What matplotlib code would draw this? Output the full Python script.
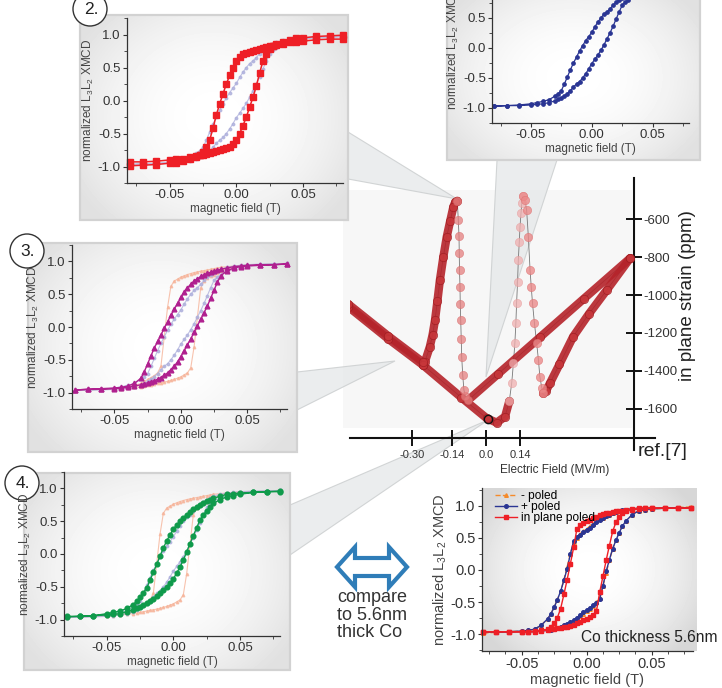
import numpy as np
import matplotlib.pyplot as plt
from matplotlib.patches import Rectangle, Polygon, Circle
from matplotlib.ticker import MultipleLocator

plt.rcParams['font.family'] = ['Liberation Sans', 'DejaVu Sans']
plt.rcParams['mathtext.fontset'] = 'custom'
plt.rcParams['mathtext.rm'] = 'Liberation Sans'
plt.rcParams['mathtext.default'] = 'regular'
plt.rcParams['axes.unicode_minus'] = False

# ---- hysteresis loops: descending branch (field from +0.08 to -0.08 T)
FIELD = [0.08, 0.07, 0.06, 0.05, 0.045, 0.04, 0.035, 0.03,
         0.0275, 0.025, 0.0225, 0.02, 0.0175, 0.015, 0.0125, 0.01, 0.0075, 0.005, 0.0025,
         0.0,
         -0.0025, -0.005, -0.0075, -0.01, -0.0125, -0.015, -0.0175, -0.02, -0.0225, -0.025, -0.0275, -0.03,
         -0.035, -0.04, -0.045, -0.05, -0.06, -0.07, -0.08]

plus_poled = [0.97, 0.96, 0.96, 0.95, 0.94, 0.93, 0.91, 0.88,
              0.855, 0.83, 0.80, 0.76, 0.71, 0.65, 0.60, 0.56, 0.50, 0.43, 0.35,
              0.26,
              0.19, 0.12, 0.04, -0.05, -0.15, -0.25, -0.36, -0.48, -0.60, -0.71, -0.76, -0.80,
              -0.86, -0.89, -0.91, -0.93, -0.95, -0.96, -0.97]
minus_poled = [0.96, 0.96, 0.95, 0.95, 0.94, 0.93, 0.92, 0.91,
               0.90, 0.89, 0.88, 0.87, 0.86, 0.85, 0.84, 0.83, 0.815, 0.80, 0.78,
               0.76,
               0.73, 0.70, 0.62, 0.30, -0.15, -0.60, -0.70, -0.74, -0.77, -0.80, -0.83, -0.86,
               -0.89, -0.91, -0.93, -0.94, -0.95, -0.96, -0.97]
state2 = [0.93, 0.93, 0.92, 0.90, 0.89, 0.88, 0.86, 0.84,
          0.83, 0.82, 0.805, 0.79, 0.78, 0.77, 0.755, 0.74, 0.72, 0.70, 0.66,
          0.60,
          0.50, 0.38, 0.25, 0.10, -0.05, -0.22, -0.42, -0.60, -0.70, -0.78, -0.82, -0.85,
          -0.89, -0.92, -0.94, -0.95, -0.97, -0.98, -0.99]
state3 = [0.96, 0.95, 0.95, 0.94, 0.93, 0.92, 0.90, 0.88,
          0.865, 0.85, 0.835, 0.82, 0.795, 0.77, 0.735, 0.70, 0.65, 0.60, 0.53,
          0.45,
          0.36, 0.27, 0.18, 0.08, -0.02, -0.12, -0.22, -0.32, -0.44, -0.56, -0.68, -0.78,
          -0.86, -0.90, -0.92, -0.93, -0.94, -0.95, -0.96]
state4 = [0.95, 0.95, 0.94, 0.93, 0.92, 0.91, 0.88, 0.85,
          0.83, 0.81, 0.78, 0.75, 0.72, 0.68, 0.64, 0.60, 0.55, 0.50, 0.44,
          0.38,
          0.29, 0.20, 0.09, -0.03, -0.16, -0.28, -0.40, -0.52, -0.59, -0.66, -0.72, -0.77,
          -0.83, -0.87, -0.89, -0.91, -0.94, -0.95, -0.96]

# 5.6 nm thick Co
thick_minus = [0.97, 0.97, 0.96, 0.96, 0.96, 0.96, 0.95, 0.93,
               0.92, 0.91, 0.895, 0.88, 0.86, 0.84, 0.815, 0.79, 0.755, 0.72, 0.68,
               0.64,
               0.60, 0.56, 0.50, 0.44, 0.25, 0.05, -0.15, -0.33, -0.46, -0.58, -0.68, -0.76,
               -0.86, -0.92, -0.94, -0.95, -0.96, -0.97, -0.98]
thick_plus = [0.96, 0.96, 0.96, 0.96, 0.96, 0.96, 0.95, 0.94,
              0.93, 0.92, 0.90, 0.88, 0.86, 0.84, 0.81, 0.78, 0.74, 0.70, 0.66,
              0.62,
              0.585, 0.55, 0.51, 0.45, 0.25, 0.02, -0.16, -0.33, -0.46, -0.58, -0.68, -0.76,
              -0.86, -0.92, -0.94, -0.95, -0.96, -0.96, -0.96]
thick_inplane = [0.96, 0.96, 0.96, 0.96, 0.96, 0.95, 0.94, 0.93,
                 0.925, 0.92, 0.91, 0.90, 0.89, 0.88, 0.865, 0.85, 0.83, 0.81, 0.785,
                 0.76,
                 0.73, 0.70, 0.64, 0.35, 0.10, -0.15, -0.38, -0.60, -0.74, -0.83, -0.88, -0.92,
                 -0.95, -0.96, -0.96, -0.96, -0.96, -0.96, -0.96]

X_TICKS = [-0.05, 0.0, 0.05]
X_TICK_LABELS = ['-0.05', '0.00', '0.05']
Y_TICKS = [-1.0, -0.5, 0.0, 0.5, 1.0]
Y_TICK_LABELS = ['-1.0', '-0.5', '0.0', '0.5', '1.0']

# ---- butterfly strain curve (E in MV/m, strain in ppm), in drawing order
branch_a_E = [-0.562, -0.40, -0.256, -0.10, 0.003, 0.044, 0.078, 0.095]
branch_a_S = [-1062, -1230, -1370, -1540, -1649, -1672, -1640, -1560]
peak_r_up_E = [0.095, 0.105, 0.112, 0.118, 0.122, 0.125, 0.129, 0.132, 0.136, 0.139, 0.143, 0.146, 0.150]
peak_r_up_S = [-1560, -1465, -1360, -1253, -1150, -1044, -930, -816, -720, -640, -570, -518, -479]
peak_r_dn_E = [0.150, 0.158, 0.166, 0.173, 0.180, 0.185, 0.190, 0.198, 0.207, 0.214, 0.220, 0.228, 0.234]
peak_r_dn_S = [-479, -500, -553, -693, -868, -960, -1044, -1150, -1254, -1340, -1430, -1490, -1518]
branch_b_E = [0.234, 0.245, 0.261, 0.30, 0.356, 0.42, 0.493, 0.588]
branch_b_S = [-1518, -1505, -1465, -1365, -1219, -1100, -974, -807]
branch_c_E = [0.588, 0.40, 0.22, 0.05, -0.072]
branch_c_S = [-807, -1019, -1223, -1415, -1553]
peak_l_up_E = [-0.072, -0.085, -0.090, -0.095, -0.099, -0.101, -0.103, -0.105, -0.106, -0.108, -0.109, -0.110, -0.113, -0.117]
peak_l_up_S = [-1553, -1530, -1500, -1420, -1325, -1230, -1132, -1045, -956, -870, -781, -690, -605, -504]
peak_l_dn_E = [-0.117, -0.125, -0.133, -0.146, -0.160, -0.174, -0.188, -0.198, -0.208, -0.218, -0.229, -0.249, -0.256]
peak_l_dn_S = [-504, -510, -535, -610, -693, -800, -921, -1030, -1132, -1210, -1272, -1351, -1370]
branch_d_E = [-0.256, -0.40, -0.562]
branch_d_S = [-1355, -1215, -1048]

E_TICKS = [-0.30, -0.14, 0.0, 0.14]
E_TICK_LABELS = ['-0.30', '-0.14', '0.0', '0.14']
S_TICKS = [-1600, -1400, -1200, -1000, -800, -600]
S_TICK_LABELS = ['-1600', '-1400', '-1200', '-1000', '-800', '-600']

W, H = 722, 688
fig = plt.figure(figsize=(W / 100, H / 100), dpi=100)


def place(l, t, r, b):
    return [l / W, 1 - b / H, (r - l) / W, (b - t) / H]


bg = fig.add_axes([0, 0, 1, 1])
bg.set_axis_off()
bg.set_autoscale_on(False)


def shade(l, t, r, b, edge=0.88, frame=True):
    yy, xx = np.mgrid[-1:1:50j, -1:1:70j]
    g = 1.0 - (1.0 - edge) * np.clip(0.7 * xx ** 2 + 0.5 * yy ** 2, 0, 1)
    bg.imshow(g, cmap='gray', vmin=0, vmax=1, extent=(l, r, b, t), aspect='auto',
              interpolation='bilinear', zorder=1)
    if frame:
        bg.add_patch(Rectangle((l, t), r - l, b - t, fill=False, ec='#d2d2d2', lw=1.6, zorder=2))


# callout wedges
for pts in [[(348, 132), (348, 179), (457, 199)],
            [(497, 160), (557, 160), (486, 377)],
            [(297, 372), (297, 410), (395, 361)],
            [(290, 505), (290, 555), (488, 420)]]:
    bg.add_patch(Polygon(pts, closed=True, fc='#e6e9ea', ec='#c9cccd', lw=0.8, alpha=0.8, zorder=0.5))

bg.add_patch(Rectangle((343, 190), 289, 238, fc='#f7f7f7', ec='none', zorder=0.3))

shade(80, 15, 348, 220)
shade(447, -5, 700, 160)
shade(28, 243, 297, 452)
shade(24, 473, 290, 670)
shade(482, 488, 697, 651, edge=0.84, frame=False)

for cx, cy, txt in [(90, 9, '2.'), (27, 251, '3.'), (22, 483, '4.')]:
    bg.add_patch(Circle((cx, cy), 17, fc='white', ec='#333333', lw=1.0, zorder=3))
    bg.text(cx + 1, cy + 1, txt, fontsize=12.5, ha='center', va='center', color='#222222', zorder=4)

# blue double arrow
arrow = [(337, 567), (355, 547), (355, 558), (389, 558), (389, 547), (407, 567),
         (389, 587), (389, 576), (355, 576), (355, 587)]
bg.add_patch(Polygon(arrow, closed=True, fc='white', ec='#2f7db8', lw=3, joinstyle='miter', zorder=3))
bg.text(337, 589, 'compare\nto 5.6nm\nthick Co', fontsize=13, ha='left', va='top',
        linespacing=1.05, color='#333333', zorder=3)

bg.text(638, 451, 'ref.[7]', fontsize=14, ha='left', va='center', color='#222222')
bg.text(688, 296, 'in plane strain (ppm)', fontsize=13.5, rotation=90, ha='center', va='center',
        color='#222222')
bg.text(555, 470, 'Electric Field (MV/m)', fontsize=8.5, ha='center', va='center', color='#333333')
bg.text(581, 638, 'Co thickness 5.6nm', fontsize=11.2, ha='left', va='center', color='#222222', zorder=5)

bg.set_xlim(0, W)
bg.set_ylim(H, 0)


def loop_axes(rect, tick_fs=9.5, lab_fs=8.5, xlim=(-0.082, 0.080), ylim=(-1.25, 1.25), xminor=0.025):
    ax = fig.add_axes(place(*rect))
    ax.set_facecolor('none')
    ax.set_xlim(*xlim)
    ax.set_ylim(*ylim)
    ax.set_xticks(X_TICKS, labels=X_TICK_LABELS)
    ax.set_yticks(Y_TICKS, labels=Y_TICK_LABELS)
    ax.xaxis.set_minor_locator(MultipleLocator(xminor))
    ax.yaxis.set_minor_locator(MultipleLocator(0.25))
    for s in ['top', 'right']:
        ax.spines[s].set_visible(False)
    for s in ['left', 'bottom']:
        ax.spines[s].set_color('#333333')
        ax.spines[s].set_linewidth(0.9)
    ax.tick_params(which='major', direction='out', length=3, width=0.8, color='#333333',
                   labelsize=tick_fs, labelcolor='#333333', pad=1.5)
    ax.tick_params(which='minor', direction='out', length=2, width=0.6, color='#333333')
    ax.set_xlabel('magnetic field (T)', fontsize=lab_fs, color='#444444', labelpad=1)
    ax.set_ylabel('normalized L$_3$L$_2$ XMCD', fontsize=lab_fs, color='#444444', labelpad=1)
    return ax


def loop(ax, desc, color, marker, ms, lw=1.0, ls='-', alpha=1.0, label=None, z=2):
    f = np.array(FIELD)
    m = np.array(desc)
    x = np.concatenate([f, -f])
    y = np.concatenate([m, -m])
    ax.plot(x, y, ls=ls, color=color, lw=lw, marker=marker, ms=ms, mec=color, mfc=color,
            alpha=alpha, label=label, zorder=z, clip_on=False)


LAV = '#aeb0dc'
PEACH = '#f6b49a'

ax1 = loop_axes((492, -27, 689, 123))
loop(ax1, plus_poled, '#2a3593', 'o', 2.4, lw=0.9)

ax2 = loop_axes((127, 18, 343, 183))
loop(ax2, plus_poled, LAV, 'o', 1.8, lw=0.8, alpha=0.8)
loop(ax2, state2, '#ee1f26', 's', 3.8, lw=1.1)

ax3 = loop_axes((72, 245, 287, 409))
loop(ax3, minus_poled, PEACH, '^', 1.8, lw=0.8, alpha=0.8)
loop(ax3, plus_poled, LAV, 'o', 1.8, lw=0.8, alpha=0.8)
loop(ax3, state3, '#b0208f', '^', 3.4, lw=1.0)

ax4 = loop_axes((64, 472, 280, 636))
loop(ax4, minus_poled, PEACH, '^', 1.8, lw=0.8, alpha=0.8)
loop(ax4, plus_poled, LAV, 'o', 1.8, lw=0.8, alpha=0.8)
loop(ax4, state4, '#0f9a4b', 'o', 3.4, lw=1.0)

ax5 = loop_axes((482, 488, 693, 651), tick_fs=10.5, lab_fs=10.5, xlim=(-0.0805, 0.0818),
                ylim=(-1.26, 1.275), xminor=0.0125)
loop(ax5, thick_minus, '#f58a2a', '^', 2.6, lw=1.0, ls='--', label='- poled')
loop(ax5, thick_plus, '#2a3593', 'o', 2.6, lw=1.0, label='+ poled')
loop(ax5, thick_inplane, '#ee1f26', 's', 2.6, lw=1.0, label='in plane poled')
ax5.legend(loc='upper left', bbox_to_anchor=(0.03, 1.03), frameon=False, fontsize=8.6,
           handlelength=1.8, handletextpad=0.3, labelspacing=-0.08, borderpad=0.1)

# butterfly strain curve
axb = fig.add_axes(place(350, 178, 655, 450))
axb.set_facecolor('none')
axb.set_xlim(-0.555, 0.690)
axb.set_ylim(-1816, -384)
for s in ['top', 'left']:
    axb.spines[s].set_visible(False)
axb.spines['bottom'].set_position(('data', -1753))
axb.spines['right'].set_position(('data', 0.604))
for s in ['bottom', 'right']:
    axb.spines[s].set_linewidth(1.5)
    axb.spines[s].set_color('#111111')
axb.yaxis.tick_right()
axb.set_xticks(E_TICKS, labels=E_TICK_LABELS)
axb.set_yticks(S_TICKS, labels=S_TICK_LABELS)
axb.tick_params(axis='x', direction='inout', length=11, width=1.3, labelsize=8, pad=3, labelcolor='#333333')
axb.tick_params(axis='y', direction='inout', length=11, width=1.3, labelsize=9.5, pad=1, labelcolor='#333333')

all_E = branch_a_E + peak_r_up_E + peak_r_dn_E + branch_b_E + branch_c_E + peak_l_up_E + peak_l_dn_E + branch_d_E
all_S = branch_a_S + peak_r_up_S + peak_r_dn_S + branch_b_S + branch_c_S + peak_l_up_S + peak_l_dn_S + branch_d_S
axb.plot(all_E, all_S, color='#777777', lw=0.6, zorder=1)

dense = [(branch_a_E, branch_a_S), (branch_b_E, branch_b_S), (branch_c_E, branch_c_S),
         (peak_l_dn_E, peak_l_dn_S), (branch_d_E, branch_d_S)]
for e, s in dense:
    axb.plot(e, s, color='#b5232a', lw=6, alpha=0.9, solid_capstyle='round', zorder=2)
    axb.plot(e, s, ls='none', marker='o', ms=6, mfc='#c8373b', mec='#9b1a1f', mew=0.5, alpha=0.8, zorder=3)

axb.plot(peak_r_up_E, peak_r_up_S, ls='none', marker='o', ms=6, mfc='#f0b0b0', mec='#e59a9a',
         mew=0.4, alpha=0.75, zorder=3)
axb.plot(peak_r_dn_E, peak_r_dn_S, ls='none', marker='o', ms=6, mfc='#eb8a8a', mec='#dd7070',
         mew=0.4, alpha=0.8, zorder=3)
axb.plot(peak_l_up_E, peak_l_up_S, ls='none', marker='o', ms=6, mfc='#e57f7f', mec='#d66a6a',
         mew=0.4, alpha=0.75, zorder=3)
axb.plot([0.008], [-1654], ls='none', marker='o', ms=6, mfc='none', mec='#111111', mew=1.0, zorder=4)

fig.savefig('out.png', dpi=100)
